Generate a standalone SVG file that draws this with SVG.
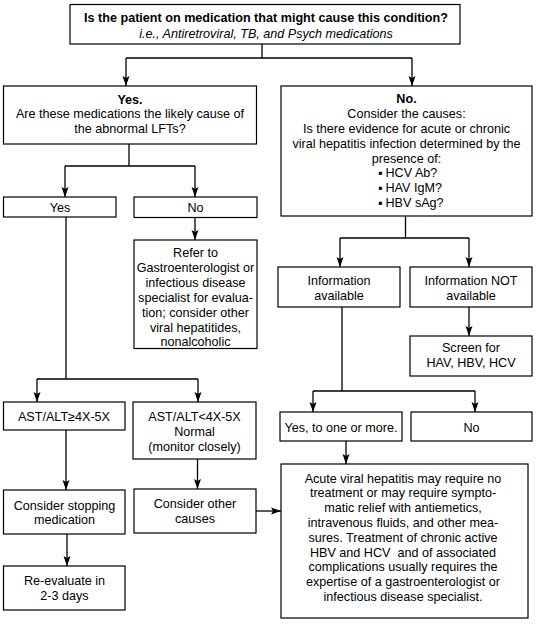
<svg xmlns="http://www.w3.org/2000/svg" width="541" height="631" viewBox="0 0 541 631">
<defs>
<style>
.box{fill:#fff;stroke:#000;stroke-width:1.2}
.t{font-family:"Liberation Sans",Arial,sans-serif;font-size:12.6px;fill:#000;text-anchor:middle}
.l{text-anchor:start}
.b{font-weight:bold}
.i{font-style:italic}
.c{fill:none;stroke:#000;stroke-width:1.3}
</style>
<marker id="ah" markerUnits="userSpaceOnUse" markerWidth="11" markerHeight="8" refX="10" refY="4" orient="auto">
<path d="M0,0.5 L10,4 L0,7.5 L2,4 z" fill="#000"/>
</marker>
</defs>
<rect width="541" height="631" fill="#fff"/>
<g id="connectors">
<polyline class="c" points="262,44 262,58"/>
<polyline class="c" points="126,58 412,58"/>
<polyline class="c" points="126,58 126,86" marker-end="url(#ah)"/>
<polyline class="c" points="412,58 412,86" marker-end="url(#ah)"/>
<polyline class="c" points="129,144 129,166"/>
<polyline class="c" points="65,166 195,166"/>
<polyline class="c" points="65,166 65,197" marker-end="url(#ah)"/>
<polyline class="c" points="195,166 195,197" marker-end="url(#ah)"/>
<polyline class="c" points="195,217 195,240" marker-end="url(#ah)"/>
<polyline class="c" points="66,217 66,379"/>
<polyline class="c" points="37,379 198,379"/>
<polyline class="c" points="37,379 37,402" marker-end="url(#ah)"/>
<polyline class="c" points="198,379 198,402" marker-end="url(#ah)"/>
<polyline class="c" points="66,430 66,490" marker-end="url(#ah)"/>
<polyline class="c" points="197.5,459 197.5,489" marker-end="url(#ah)"/>
<polyline class="c" points="67,534 67,566" marker-end="url(#ah)"/>
<polyline class="c" points="256,511 281,511" marker-end="url(#ah)"/>
<polyline class="c" points="405.5,216 405.5,238"/>
<polyline class="c" points="340,238 469,238"/>
<polyline class="c" points="340,238 340,267" marker-end="url(#ah)"/>
<polyline class="c" points="469,238 469,267" marker-end="url(#ah)"/>
<polyline class="c" points="469,307 469,336" marker-end="url(#ah)"/>
<polyline class="c" points="342,307 342,391"/>
<polyline class="c" points="313,391 475,391"/>
<polyline class="c" points="313,391 313,412" marker-end="url(#ah)"/>
<polyline class="c" points="475,391 475,412" marker-end="url(#ah)"/>
<polyline class="c" points="346,441 346,464" marker-end="url(#ah)"/>
</g>
<g id="n-top">
<rect class="box" x="70" y="4.5" width="390" height="39.5"/>
<text class="t b" x="266" y="21.5">Is the patient on medication that might cause this condition?</text>
<text class="t i" x="266" y="37.5">i.e., Antiretroviral, TB, and Psych medications</text>
</g>
<g id="n-yes">
<rect class="box" x="3.5" y="86" width="253" height="58"/>
<text class="t b" x="130" y="103.5">Yes.</text>
<text class="t" x="130" y="118">Are these medications the likely cause of</text>
<text class="t" x="130" y="132.5">the abnormal LFTs?</text>
</g>
<g id="n-no">
<rect class="box" x="281" y="86" width="251" height="130"/>
<text class="t b" x="406.5" y="102.5">No.</text>
<text class="t" x="406.5" y="117.5">Consider the causes:</text>
<text class="t" x="406.5" y="132.5">Is there evidence for acute or chronic</text>
<text class="t" x="406.5" y="147.5">viral hepatitis infection determined by the</text>
<text class="t" x="406.5" y="162.5">presence of:</text>
<text class="t l" x="378" y="177">▪<tspan x="385.5">HCV Ab?</tspan></text>
<text class="t l" x="378" y="192">▪<tspan x="385.5">HAV IgM?</tspan></text>
<text class="t l" x="378" y="207">▪<tspan x="385.5">HBV sAg?</tspan></text>
</g>
<g id="n-yes2">
<rect class="box" x="3.5" y="197" width="112.5" height="20"/>
<text class="t" x="60" y="212">Yes</text>
</g>
<g id="n-no2">
<rect class="box" x="134" y="197" width="123" height="20.5"/>
<text class="t" x="195.5" y="212">No</text>
</g>
<g id="n-refer">
<rect class="box" x="134" y="240" width="123" height="108.5"/>
<text class="t" x="195.5" y="256.5">Refer to</text>
<text class="t" x="195.5" y="271.5">Gastroenterologist or</text>
<text class="t" x="195.5" y="286.5">infectious disease</text>
<text class="t" x="195.5" y="301.5">specialist for evalua-</text>
<text class="t" x="195.5" y="316.5">tion; consider other</text>
<text class="t" x="195.5" y="331.5">viral hepatitides,</text>
<text class="t" x="195.5" y="346">nonalcoholic</text>
</g>
<g id="n-ast-high">
<rect class="box" x="3.5" y="402" width="121.5" height="28"/>
<text class="t" x="64" y="421">AST/ALT≥4X-5X</text>
</g>
<g id="n-ast-low">
<rect class="box" x="133" y="402" width="123" height="57"/>
<text class="t" x="194.5" y="420.5">AST/ALT&lt;4X-5X</text>
<text class="t" x="194.5" y="435.5">Normal</text>
<text class="t" x="194.5" y="451">(monitor closely)</text>
</g>
<g id="n-stop">
<rect class="box" x="3.5" y="490" width="121.5" height="44"/>
<text class="t" x="64.5" y="509.5">Consider stopping</text>
<text class="t" x="64.5" y="524">medication</text>
</g>
<g id="n-other">
<rect class="box" x="134" y="489" width="122" height="44"/>
<text class="t" x="195" y="507.5">Consider other</text>
<text class="t" x="195" y="522.5">causes</text>
</g>
<g id="n-reeval">
<rect class="box" x="3.5" y="566" width="121.5" height="44"/>
<text class="t" x="64.5" y="584.5">Re-evaluate in</text>
<text class="t" x="64.5" y="599.5">2-3 days</text>
</g>
<g id="n-info">
<rect class="box" x="278" y="267" width="122" height="40"/>
<text class="t" x="339" y="284.5">Information</text>
<text class="t" x="339" y="299.5">available</text>
</g>
<g id="n-info-not">
<rect class="box" x="410" y="267" width="122" height="40"/>
<text class="t" x="471" y="284.5">Information NOT</text>
<text class="t" x="471" y="299.5">available</text>
</g>
<g id="n-screen">
<rect class="box" x="410" y="336" width="122" height="40"/>
<text class="t" x="471" y="351.5">Screen for</text>
<text class="t" x="471" y="367">HAV, HBV, HCV</text>
</g>
<g id="n-yes-one">
<rect class="box" x="280" y="412" width="122" height="29"/>
<text class="t" x="341" y="431.5">Yes, to one or more.</text>
</g>
<g id="n-no3">
<rect class="box" x="411" y="412" width="121" height="29"/>
<text class="t" x="471.5" y="431.5">No</text>
</g>
<g id="n-acute">
<rect class="box" x="281" y="464" width="247" height="154"/>
<text class="t" x="403" y="482.5">Acute viral hepatitis may require no</text>
<text class="t" x="403" y="497.3">treatment or may require sympto-</text>
<text class="t" x="403" y="512.1">matic relief with antiemetics,</text>
<text class="t" x="403" y="526.9">intravenous fluids, and other mea-</text>
<text class="t" x="403" y="541.7">sures. Treatment of chronic active</text>
<text class="t" x="403" y="556.5" style="white-space:pre">HBV and HCV  and of associated</text>
<text class="t" x="403" y="571.3">complications usually requires the</text>
<text class="t" x="403" y="586.1">expertise of a gastroenterologist or</text>
<text class="t" x="403" y="600.9">infectious disease specialist.</text>
</g>
</svg>
